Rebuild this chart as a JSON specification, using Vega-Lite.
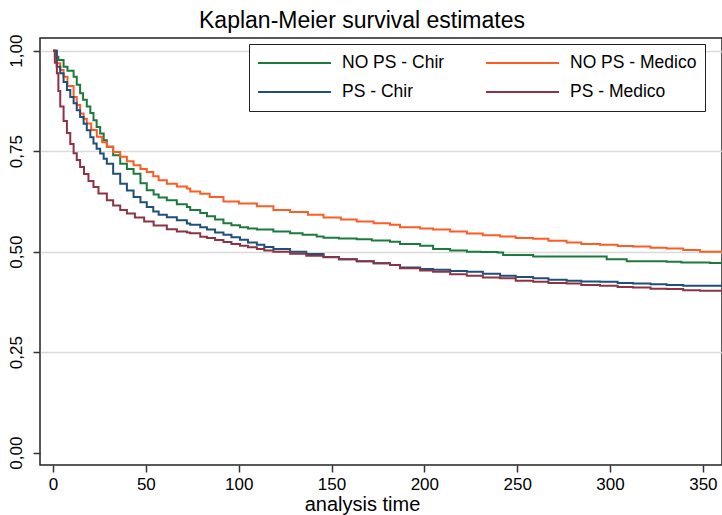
{
  "$schema": "https://vega.github.io/schema/vega-lite/v6.json",
  "autosize": "none",
  "width": 682,
  "height": 427,
  "padding": {"left": 40, "top": 38, "right": 0, "bottom": 50},
  "background": "white",
  "config": {
    "font": "Liberation Sans",
    "view": {"stroke": "#222", "strokeWidth": 1.5},
    "axis": {"labelFont": "Liberation Sans", "titleFont": "Liberation Sans"}
  },
  "title": {
    "text": "Kaplan-Meier survival estimates",
    "fontSize": 23,
    "fontWeight": "normal",
    "font": "Liberation Sans",
    "color": "#000",
    "offset": 1,
    "dx": -19
  },
  "data": {
    "values": [
      {"g":"NO PS - Chir","t":0,"s":1.0},{"g":"NO PS - Chir","t":2.0,"s":0.985},{"g":"NO PS - Chir","t":2.9,"s":0.977},{"g":"NO PS - Chir","t":5.7,"s":0.96},{"g":"NO PS - Chir","t":7.8,"s":0.95},{"g":"NO PS - Chir","t":11.1,"s":0.935},{"g":"NO PS - Chir","t":12.8,"s":0.915},{"g":"NO PS - Chir","t":14.6,"s":0.894},{"g":"NO PS - Chir","t":16.2,"s":0.878},{"g":"NO PS - Chir","t":18.2,"s":0.861},{"g":"NO PS - Chir","t":20.1,"s":0.845},{"g":"NO PS - Chir","t":21.8,"s":0.827},{"g":"NO PS - Chir","t":23.5,"s":0.81},{"g":"NO PS - Chir","t":25.4,"s":0.794},{"g":"NO PS - Chir","t":27.3,"s":0.777},{"g":"NO PS - Chir","t":29.0,"s":0.761},{"g":"NO PS - Chir","t":32.4,"s":0.74},{"g":"NO PS - Chir","t":36.2,"s":0.719},{"g":"NO PS - Chir","t":39.8,"s":0.706},{"g":"NO PS - Chir","t":43.4,"s":0.694},{"g":"NO PS - Chir","t":47.1,"s":0.67},{"g":"NO PS - Chir","t":50.5,"s":0.653},{"g":"NO PS - Chir","t":54.2,"s":0.642},{"g":"NO PS - Chir","t":56.9,"s":0.635},{"g":"NO PS - Chir","t":61.3,"s":0.628},{"g":"NO PS - Chir","t":66.7,"s":0.618},{"g":"NO PS - Chir","t":72.1,"s":0.611},{"g":"NO PS - Chir","t":73.9,"s":0.604},{"g":"NO PS - Chir","t":79.3,"s":0.596},{"g":"NO PS - Chir","t":82.9,"s":0.588},{"g":"NO PS - Chir","t":87.3,"s":0.58},{"g":"NO PS - Chir","t":91.8,"s":0.571},{"g":"NO PS - Chir","t":96.1,"s":0.566},{"g":"NO PS - Chir","t":100.7,"s":0.561},{"g":"NO PS - Chir","t":105.0,"s":0.558},{"g":"NO PS - Chir","t":109.8,"s":0.555},{"g":"NO PS - Chir","t":118.7,"s":0.55},{"g":"NO PS - Chir","t":127.7,"s":0.546},{"g":"NO PS - Chir","t":134.4,"s":0.542},{"g":"NO PS - Chir","t":142.0,"s":0.538},{"g":"NO PS - Chir","t":145.7,"s":0.535},{"g":"NO PS - Chir","t":154.0,"s":0.533},{"g":"NO PS - Chir","t":163.6,"s":0.531},{"g":"NO PS - Chir","t":171.7,"s":0.528},{"g":"NO PS - Chir","t":181.5,"s":0.525},{"g":"NO PS - Chir","t":186.9,"s":0.519},{"g":"NO PS - Chir","t":197.7,"s":0.515},{"g":"NO PS - Chir","t":204.7,"s":0.507},{"g":"NO PS - Chir","t":213.9,"s":0.503},{"g":"NO PS - Chir","t":222.9,"s":0.5},{"g":"NO PS - Chir","t":230.5,"s":0.499},{"g":"NO PS - Chir","t":239.4,"s":0.498},{"g":"NO PS - Chir","t":242.4,"s":0.492},{"g":"NO PS - Chir","t":258.6,"s":0.488},{"g":"NO PS - Chir","t":276.6,"s":0.488},{"g":"NO PS - Chir","t":292.8,"s":0.488},{"g":"NO PS - Chir","t":298.2,"s":0.481},{"g":"NO PS - Chir","t":309.0,"s":0.476},{"g":"NO PS - Chir","t":330.5,"s":0.475},{"g":"NO PS - Chir","t":338.4,"s":0.473},{"g":"NO PS - Chir","t":353.8,"s":0.472},{"g":"NO PS - Chir","t":361,"s":0.472},

      {"g":"NO PS - Medico","t":0,"s":1.0},{"g":"NO PS - Medico","t":1.0,"s":0.985},{"g":"NO PS - Medico","t":2.1,"s":0.969},{"g":"NO PS - Medico","t":3.9,"s":0.952},{"g":"NO PS - Medico","t":5.7,"s":0.935},{"g":"NO PS - Medico","t":7.8,"s":0.912},{"g":"NO PS - Medico","t":11.1,"s":0.885},{"g":"NO PS - Medico","t":12.8,"s":0.865},{"g":"NO PS - Medico","t":14.6,"s":0.844},{"g":"NO PS - Medico","t":16.5,"s":0.831},{"g":"NO PS - Medico","t":18.2,"s":0.819},{"g":"NO PS - Medico","t":20.6,"s":0.803},{"g":"NO PS - Medico","t":23.6,"s":0.786},{"g":"NO PS - Medico","t":26.5,"s":0.772},{"g":"NO PS - Medico","t":29.0,"s":0.761},{"g":"NO PS - Medico","t":32.4,"s":0.748},{"g":"NO PS - Medico","t":36.2,"s":0.736},{"g":"NO PS - Medico","t":39.8,"s":0.725},{"g":"NO PS - Medico","t":43.4,"s":0.715},{"g":"NO PS - Medico","t":47.1,"s":0.706},{"g":"NO PS - Medico","t":50.5,"s":0.698},{"g":"NO PS - Medico","t":54.0,"s":0.688},{"g":"NO PS - Medico","t":56.9,"s":0.678},{"g":"NO PS - Medico","t":61.3,"s":0.669},{"g":"NO PS - Medico","t":66.7,"s":0.662},{"g":"NO PS - Medico","t":72.1,"s":0.657},{"g":"NO PS - Medico","t":73.9,"s":0.65},{"g":"NO PS - Medico","t":79.3,"s":0.644},{"g":"NO PS - Medico","t":84.4,"s":0.636},{"g":"NO PS - Medico","t":91.8,"s":0.625},{"g":"NO PS - Medico","t":100.1,"s":0.62},{"g":"NO PS - Medico","t":109.8,"s":0.613},{"g":"NO PS - Medico","t":118.7,"s":0.604},{"g":"NO PS - Medico","t":127.7,"s":0.599},{"g":"NO PS - Medico","t":137.3,"s":0.592},{"g":"NO PS - Medico","t":145.7,"s":0.585},{"g":"NO PS - Medico","t":155.0,"s":0.58},{"g":"NO PS - Medico","t":163.6,"s":0.575},{"g":"NO PS - Medico","t":172.7,"s":0.571},{"g":"NO PS - Medico","t":181.5,"s":0.567},{"g":"NO PS - Medico","t":186.9,"s":0.561},{"g":"NO PS - Medico","t":197.7,"s":0.558},{"g":"NO PS - Medico","t":204.7,"s":0.555},{"g":"NO PS - Medico","t":213.9,"s":0.55},{"g":"NO PS - Medico","t":222.9,"s":0.545},{"g":"NO PS - Medico","t":231.5,"s":0.541},{"g":"NO PS - Medico","t":240.8,"s":0.538},{"g":"NO PS - Medico","t":249.2,"s":0.534},{"g":"NO PS - Medico","t":258.6,"s":0.532},{"g":"NO PS - Medico","t":266.8,"s":0.527},{"g":"NO PS - Medico","t":276.6,"s":0.523},{"g":"NO PS - Medico","t":284.5,"s":0.519},{"g":"NO PS - Medico","t":294.6,"s":0.517},{"g":"NO PS - Medico","t":304.1,"s":0.514},{"g":"NO PS - Medico","t":312.4,"s":0.513},{"g":"NO PS - Medico","t":321.8,"s":0.51},{"g":"NO PS - Medico","t":330.5,"s":0.508},{"g":"NO PS - Medico","t":339.4,"s":0.504},{"g":"NO PS - Medico","t":348.5,"s":0.5},{"g":"NO PS - Medico","t":361,"s":0.5},

      {"g":"PS - Chir","t":0,"s":1.0},{"g":"PS - Chir","t":2.0,"s":0.96},{"g":"PS - Chir","t":3.9,"s":0.944},{"g":"PS - Chir","t":5.7,"s":0.922},{"g":"PS - Chir","t":7.5,"s":0.902},{"g":"PS - Chir","t":9.3,"s":0.885},{"g":"PS - Chir","t":11.1,"s":0.869},{"g":"PS - Chir","t":12.8,"s":0.852},{"g":"PS - Chir","t":14.6,"s":0.835},{"g":"PS - Chir","t":16.5,"s":0.818},{"g":"PS - Chir","t":18.2,"s":0.802},{"g":"PS - Chir","t":20.1,"s":0.785},{"g":"PS - Chir","t":21.8,"s":0.769},{"g":"PS - Chir","t":23.5,"s":0.756},{"g":"PS - Chir","t":25.4,"s":0.744},{"g":"PS - Chir","t":27.3,"s":0.731},{"g":"PS - Chir","t":29.0,"s":0.719},{"g":"PS - Chir","t":32.4,"s":0.694},{"g":"PS - Chir","t":36.2,"s":0.669},{"g":"PS - Chir","t":39.8,"s":0.652},{"g":"PS - Chir","t":43.4,"s":0.636},{"g":"PS - Chir","t":47.1,"s":0.623},{"g":"PS - Chir","t":50.5,"s":0.611},{"g":"PS - Chir","t":54.0,"s":0.6},{"g":"PS - Chir","t":56.9,"s":0.592},{"g":"PS - Chir","t":61.3,"s":0.586},{"g":"PS - Chir","t":66.7,"s":0.578},{"g":"PS - Chir","t":72.1,"s":0.57},{"g":"PS - Chir","t":73.9,"s":0.567},{"g":"PS - Chir","t":79.3,"s":0.561},{"g":"PS - Chir","t":82.9,"s":0.555},{"g":"PS - Chir","t":87.3,"s":0.548},{"g":"PS - Chir","t":91.8,"s":0.542},{"g":"PS - Chir","t":96.1,"s":0.536},{"g":"PS - Chir","t":100.7,"s":0.53},{"g":"PS - Chir","t":105.0,"s":0.523},{"g":"PS - Chir","t":109.8,"s":0.517},{"g":"PS - Chir","t":113.8,"s":0.512},{"g":"PS - Chir","t":118.7,"s":0.507},{"g":"PS - Chir","t":127.7,"s":0.5},{"g":"PS - Chir","t":136.4,"s":0.494},{"g":"PS - Chir","t":145.7,"s":0.487},{"g":"PS - Chir","t":154.0,"s":0.481},{"g":"PS - Chir","t":163.6,"s":0.476},{"g":"PS - Chir","t":172.7,"s":0.471},{"g":"PS - Chir","t":181.5,"s":0.467},{"g":"PS - Chir","t":186.9,"s":0.461},{"g":"PS - Chir","t":197.7,"s":0.457},{"g":"PS - Chir","t":204.7,"s":0.455},{"g":"PS - Chir","t":213.9,"s":0.452},{"g":"PS - Chir","t":222.9,"s":0.45},{"g":"PS - Chir","t":231.5,"s":0.445},{"g":"PS - Chir","t":240.8,"s":0.44},{"g":"PS - Chir","t":249.2,"s":0.437},{"g":"PS - Chir","t":258.6,"s":0.434},{"g":"PS - Chir","t":266.8,"s":0.43},{"g":"PS - Chir","t":276.6,"s":0.428},{"g":"PS - Chir","t":284.5,"s":0.426},{"g":"PS - Chir","t":294.6,"s":0.425},{"g":"PS - Chir","t":304.1,"s":0.422},{"g":"PS - Chir","t":312.4,"s":0.421},{"g":"PS - Chir","t":321.8,"s":0.419},{"g":"PS - Chir","t":330.5,"s":0.417},{"g":"PS - Chir","t":339.4,"s":0.415},{"g":"PS - Chir","t":348.5,"s":0.415},{"g":"PS - Chir","t":361,"s":0.415},

      {"g":"PS - Medico","t":0,"s":1.0},{"g":"PS - Medico","t":1.0,"s":0.97},{"g":"PS - Medico","t":2.1,"s":0.944},{"g":"PS - Medico","t":2.9,"s":0.9},{"g":"PS - Medico","t":3.9,"s":0.861},{"g":"PS - Medico","t":5.7,"s":0.825},{"g":"PS - Medico","t":7.5,"s":0.795},{"g":"PS - Medico","t":9.3,"s":0.768},{"g":"PS - Medico","t":11.1,"s":0.745},{"g":"PS - Medico","t":12.8,"s":0.728},{"g":"PS - Medico","t":14.6,"s":0.711},{"g":"PS - Medico","t":16.7,"s":0.693},{"g":"PS - Medico","t":19.1,"s":0.676},{"g":"PS - Medico","t":21.8,"s":0.661},{"g":"PS - Medico","t":24.5,"s":0.645},{"g":"PS - Medico","t":29.0,"s":0.628},{"g":"PS - Medico","t":32.4,"s":0.615},{"g":"PS - Medico","t":36.2,"s":0.604},{"g":"PS - Medico","t":39.8,"s":0.595},{"g":"PS - Medico","t":44.1,"s":0.585},{"g":"PS - Medico","t":49.1,"s":0.575},{"g":"PS - Medico","t":54.2,"s":0.565},{"g":"PS - Medico","t":61.3,"s":0.556},{"g":"PS - Medico","t":66.7,"s":0.55},{"g":"PS - Medico","t":72.1,"s":0.548},{"g":"PS - Medico","t":73.9,"s":0.546},{"g":"PS - Medico","t":79.3,"s":0.537},{"g":"PS - Medico","t":82.9,"s":0.534},{"g":"PS - Medico","t":87.3,"s":0.529},{"g":"PS - Medico","t":91.8,"s":0.524},{"g":"PS - Medico","t":96.1,"s":0.519},{"g":"PS - Medico","t":100.7,"s":0.515},{"g":"PS - Medico","t":105.0,"s":0.511},{"g":"PS - Medico","t":109.8,"s":0.507},{"g":"PS - Medico","t":113.8,"s":0.503},{"g":"PS - Medico","t":118.7,"s":0.5},{"g":"PS - Medico","t":127.7,"s":0.495},{"g":"PS - Medico","t":136.4,"s":0.49},{"g":"PS - Medico","t":145.7,"s":0.486},{"g":"PS - Medico","t":154.0,"s":0.481},{"g":"PS - Medico","t":163.6,"s":0.476},{"g":"PS - Medico","t":172.7,"s":0.471},{"g":"PS - Medico","t":181.5,"s":0.467},{"g":"PS - Medico","t":186.9,"s":0.459},{"g":"PS - Medico","t":197.7,"s":0.453},{"g":"PS - Medico","t":204.7,"s":0.45},{"g":"PS - Medico","t":213.9,"s":0.444},{"g":"PS - Medico","t":222.9,"s":0.44},{"g":"PS - Medico","t":231.5,"s":0.436},{"g":"PS - Medico","t":240.8,"s":0.434},{"g":"PS - Medico","t":249.2,"s":0.428},{"g":"PS - Medico","t":258.6,"s":0.425},{"g":"PS - Medico","t":266.8,"s":0.422},{"g":"PS - Medico","t":276.6,"s":0.421},{"g":"PS - Medico","t":284.5,"s":0.417},{"g":"PS - Medico","t":294.6,"s":0.415},{"g":"PS - Medico","t":304.1,"s":0.412},{"g":"PS - Medico","t":312.4,"s":0.411},{"g":"PS - Medico","t":321.8,"s":0.408},{"g":"PS - Medico","t":330.5,"s":0.407},{"g":"PS - Medico","t":339.4,"s":0.404},{"g":"PS - Medico","t":348.5,"s":0.403},{"g":"PS - Medico","t":361,"s":0.399}
    ]
  },
  "mark": {"type": "line", "interpolate": "step-after", "strokeWidth": 2, "clip": true},
  "encoding": {
    "x": {
      "field": "t", "type": "quantitative",
      "scale": {"domain": [-7, 360.3], "nice": false, "zero": false},
      "axis": {
        "title": "analysis time",
        "titleX": 322,
        "values": [0, 50, 100, 150, 200, 250, 300, 350],
        "grid": false, "domain": false,
        "tickSize": 7, "tickColor": "#333", "tickWidth": 1.5,
        "labelFontSize": 17, "labelColor": "#000", "labelPadding": 4,
        "titleFontSize": 20, "titleFontWeight": "normal", "titleColor": "#000", "titlePadding": 2
      }
    },
    "y": {
      "field": "s", "type": "quantitative",
      "scale": {"domain": [-0.0306, 1.0316], "nice": false, "zero": false},
      "axis": {
        "title": null,
        "values": [0, 0.25, 0.5, 0.75, 1],
        "labelExpr": "replace(format(datum.value, '.2f'), '.', ',')",
        "grid": true, "gridColor": "#dadada", "gridWidth": 1.5,
        "gridOpacity": {"condition": {"test": "datum.value === 0", "value": 0}, "value": 1},
        "domain": false,
        "tickSize": 7, "tickColor": "#333", "tickWidth": 1.5,
        "labelFontSize": 17, "labelColor": "#000", "labelAngle": -90,
        "labelAlign": "center", "labelBaseline": "bottom", "labelPadding": 8
      }
    },
    "color": {
      "field": "g", "type": "nominal",
      "scale": {
        "domain": ["NO PS - Chir", "PS - Chir", "NO PS - Medico", "PS - Medico"],
        "range": ["#1b7a3e", "#1f4f7c", "#fb5d24", "#8d3343"]
      },
      "legend": {
        "title": null,
        "orient": "none",
        "legendX": 209,
        "legendY": 6,
        "columns": 2,
        "symbolType": "stroke",
        "symbolSize": 5329,
        "symbolStrokeWidth": 2,
        "clipHeight": 22,
        "labelFontSize": 17.5,
        "labelColor": "#000",
        "labelOffset": 10,
        "labelLimit": 300,
        "columnPadding": 40,
        "rowPadding": 7,
        "padding": 8,
        "strokeColor": "#222",
        "fillColor": "white"
      }
    }
  }
}
